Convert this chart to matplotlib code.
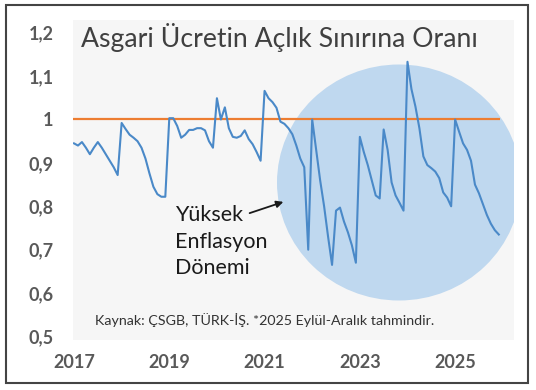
import numpy as np
import matplotlib
matplotlib.use("Agg")
import matplotlib.pyplot as plt
from matplotlib.patches import Ellipse, Rectangle

# monthly ratio, Jan 2017 .. Dec 2025
ratio = [
    0.945, 0.940, 0.948, 0.935, 0.920, 0.935, 0.948, 0.935, 0.920, 0.905, 0.890, 0.872,  # 2017
    0.992, 0.978, 0.965, 0.958, 0.950, 0.935, 0.910, 0.876, 0.845, 0.828, 0.822, 0.822,  # 2018
    1.003, 1.003, 0.985, 0.958, 0.965, 0.976, 0.976, 0.980, 0.980, 0.975, 0.950, 0.935,  # 2019
    1.049, 1.000, 1.028, 0.980, 0.960, 0.958, 0.962, 0.975, 0.955, 0.943, 0.925, 0.905,  # 2020
    1.066, 1.049, 1.040, 1.027, 0.995, 0.990, 0.980, 0.966, 0.940, 0.910, 0.890, 0.700,  # 2021
    1.000, 0.930, 0.860, 0.800, 0.730, 0.665, 0.790, 0.797, 0.765, 0.740, 0.710, 0.670,  # 2022
    0.960, 0.925, 0.895, 0.860, 0.825, 0.818, 0.977, 0.930, 0.855, 0.825, 0.808, 0.790,  # 2023
    1.133, 1.070, 1.030, 0.980, 0.915, 0.895, 0.888, 0.880, 0.865, 0.832, 0.820, 0.800,  # 2024
    1.000, 0.972, 0.945, 0.930, 0.905, 0.850, 0.830, 0.805, 0.780, 0.760, 0.745, 0.735,  # 2025
]
year_labels = ["2017", "2019", "2021", "2023", "2025"]
y_ticks = [0.5, 0.6, 0.7, 0.8, 0.9, 1.0, 1.1, 1.2]
y_labels = ["0,5", "0,6", "0,7", "0,8", "0,9", "1", "1,1", "1,2"]

plt.rcParams['font.family'] = ['Lato', 'DejaVu Sans']

W, H = 536, 390
fig = plt.figure(figsize=(W / 100, H / 100), dpi=100)
fig.patch.set_facecolor('white')

# axes box in pixels
L, R, T, B = 73, 514, 20, 340
ax = fig.add_axes([L / W, (H - B) / H, (R - L) / W, (B - T) / H])
ax.set_facecolor('#f6f6f6')

x = np.arange(len(ratio))
px_per_month = 3.97
x0 = 74
ax.set_xlim((L - x0) / px_per_month, (R - x0) / px_per_month)
px_per_unit = 434
y1 = 119.5
ax.set_ylim(1 - (B - y1) / px_per_unit, 1 + (y1 - T) / px_per_unit)

# highlight circle (pixel geometry converted to data units)
cx, cy, cw, ch = 399, 182.5, 244, 236
ax.add_patch(Ellipse(((cx - x0) / px_per_month, 1 - (cy - y1) / px_per_unit),
                     cw / px_per_month, ch / px_per_unit,
                     facecolor='#bfd8ef', edgecolor='none', zorder=1))

ax.hlines(1.0, -0.25, 107.3, color='#ed7d31', lw=1.6, zorder=2)
ax.plot(x, ratio, color='#4a89c8', lw=1.5, zorder=3)

for s in ax.spines.values():
    s.set_visible(False)
ax.set_xticks([0, 24, 48, 72, 96])
ax.set_xticklabels(year_labels)
ax.set_yticks(y_ticks)
ax.set_yticklabels(y_labels)
ax.tick_params(axis='both', length=0, labelsize=13, labelcolor='#595959')
ax.tick_params(axis='y', pad=14)
ax.tick_params(axis='x', pad=10)
for lab in ax.get_xticklabels() + ax.get_yticklabels():
    lab.set_fontweight('bold')

fig.text(279 / W, (H - 47) / H, "Asgari Ücretin Açlık Sınırına Oranı",
         ha='center', va='baseline', fontsize=19.2, color='#404040')

fig.text(175 / W, (H - 205) / H, "Yüksek\nEnflasyon\nDönemi", ha='left',
         va='top', fontsize=15.5, color='#1a1a1a', linespacing=1.42)

ax.annotate("", xy=(286 / W, (H - 201) / H), xytext=(247 / W, (H - 214) / H),
            xycoords='figure fraction', textcoords='figure fraction',
            arrowprops=dict(arrowstyle='-|>', color='#1a1a1a', lw=1.3,
                            mutation_scale=10))

fig.text(95 / W, (H - 325) / H, "Kaynak: ÇSGB, TÜRK-İŞ. *2025 Eylül-Aralık tahmindir.",
         ha='left', va='baseline', fontsize=10.3, color='#333333')

fig.add_artist(Rectangle((6 / W, (H - 383) / H), 522 / W, 378 / H,
                         transform=fig.transFigure, fill=False,
                         edgecolor='#444444', lw=1.5))

fig.savefig('out.png', dpi=100)
